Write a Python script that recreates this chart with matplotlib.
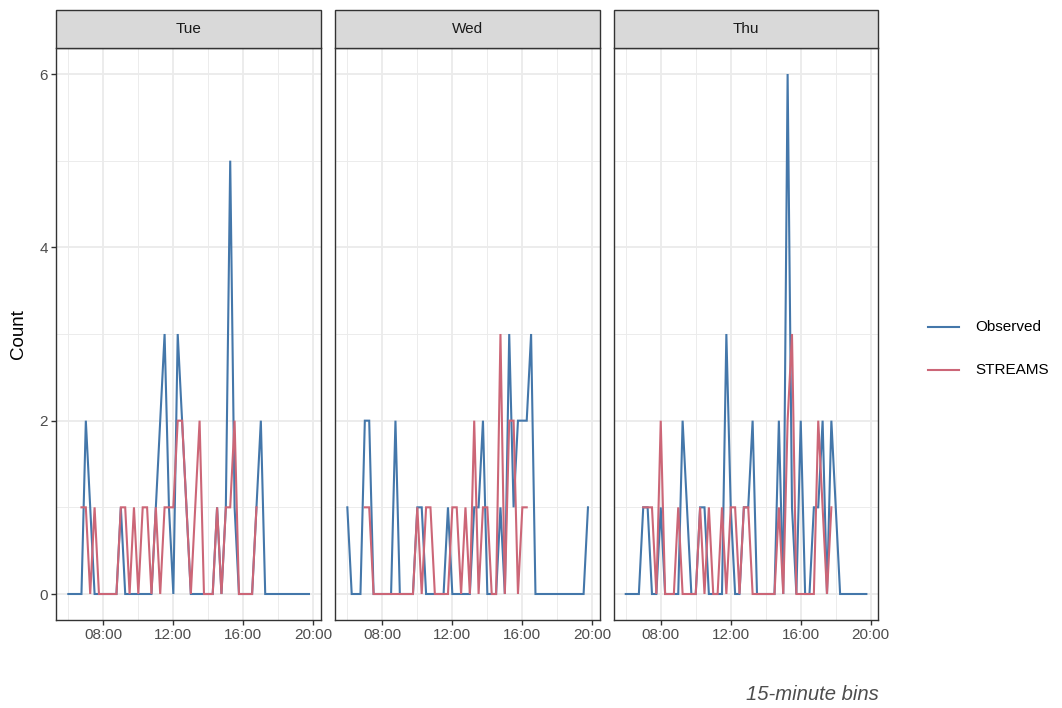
import matplotlib
matplotlib.use("Agg")
import matplotlib.pyplot as plt
from matplotlib.lines import Line2D
from matplotlib.patches import Rectangle
import numpy as np
import pandas as pd

plt.rcParams["font.family"] = ["Liberation Sans", "DejaVu Sans"]

# 15-minute bins from 06:00 to 19:45
bin_start = pd.date_range("2024-01-01 06:00", "2024-01-01 19:45", freq="15min")
bin_hours = bin_start.hour + bin_start.minute / 60.0

days = ["Tue", "Wed", "Thu"]
series_names = ["Observed", "STREAMS"]
series_colors = {"Observed": "#4477AA", "STREAMS": "#CC6677"}

N = None
observed_tue = [0, 0, 0, 0, 2, 1, 0, 0, 0, 0,
                0, 0, 1, 0, 0, 0, 0, 0, 0, 0,
                1, 2, 3, 1, 0, 3, 2, 1, 0, 0,
                0, 0, 0, 0, 1, 0, 1, 5, 1, 0,
                0, 0, 0, 1, 2, 0, 0, 0, 0, 0,
                0, 0, 0, 0, 0, 0]
streams_tue = [N, N, N, 1, 1, 0, 1, 0, 0, 0,
               0, 0, 1, 1, 0, 1, 0, 1, 1, 0,
               1, 0, 1, 1, 1, 2, 2, 1, 0, 1,
               2, 0, 0, 0, 1, 0, 1, 1, 2, 0,
               0, 0, 0, 1, N, N, N, N, N, N,
               N, N, N, N, N, N]

observed_wed = [1, 0, 0, 0, 2, 2, 0, 0, 0, 0,
                0, 2, 0, 0, 0, 0, 1, 1, 0, 0,
                0, 0, 0, 1, 0, 0, 0, 0, 0, 1,
                1, 2, 0, 0, 0, 1, 0, 3, 1, 2,
                2, 2, 3, 0, 0, 0, 0, 0, 0, 0,
                0, 0, 0, 0, 0, 1]
streams_wed = [N, N, N, N, 1, 1, 0, 0, 0, 0,
               0, 0, 0, 0, 0, 0, 1, 0, 1, 1,
               0, 0, 0, 0, 1, 1, 0, 1, 0, 2,
               0, 1, 1, 0, 0, 3, 0, 2, 2, 0,
               1, 1, N, N, N, N, N, N, N, N,
               N, N, N, N, N, N]

observed_thu = [0, 0, 0, 0, 1, 1, 0, 0, 1, 0,
                0, 0, 0, 2, 1, 0, 0, 1, 1, 0,
                0, 0, 0, 3, 1, 0, 0, 1, 1, 2,
                0, 0, 0, 0, 0, 2, 0, 6, 1, 0,
                2, 0, 0, 1, 1, 2, 0, 2, 1, 0,
                0, 0, 0, 0, 0, 0]
streams_thu = [N, N, N, N, 1, 1, 1, 0, 2, 0,
               0, 0, 1, 0, 0, 0, 0, 1, 0, 1,
               0, 0, 1, 0, 1, 1, 0, 1, 1, 0,
               0, 0, 0, 0, 0, 1, 0, 2, 3, 0,
               0, 0, 0, 0, 2, 1, 0, 1, N, N,
               N, N, N, N, N, N]

counts = {
    ("Tue", "Observed"): observed_tue, ("Tue", "STREAMS"): streams_tue,
    ("Wed", "Observed"): observed_wed, ("Wed", "STREAMS"): streams_wed,
    ("Thu", "Observed"): observed_thu, ("Thu", "STREAMS"): streams_thu,
}

x_ticks = [8, 12, 16, 20]
x_tick_labels = ["08:00", "12:00", "16:00", "20:00"]
y_ticks = [0, 2, 4, 6]

W, H = 1062, 708
fig = plt.figure(figsize=(W / 100, H / 100), dpi=100)
fig.patch.set_facecolor("white")

panel_lefts = [56.3, 335.3, 613.7]
panel_w = 264.7
panel_top, panel_bottom = 48, 620
strip_top = 10

span = bin_hours.max() - bin_hours.min()
xlim = (bin_hours.min() - 0.05 * span, bin_hours.max() + 0.05 * span)
ylim = (-0.3, 6.3)

border = "#333333"
grid_c = "#EBEBEB"
tick_text = "#4D4D4D"

for k, day in enumerate(days):
    left = panel_lefts[k]
    ax = fig.add_axes([left / W, 1 - panel_bottom / H, panel_w / W,
                       (panel_bottom - panel_top) / H])
    ax.set_xlim(*xlim)
    ax.set_ylim(*ylim)
    ax.set_xticks(x_ticks)
    ax.set_xticks([6, 10, 14, 18], minor=True)
    ax.set_yticks(y_ticks)
    ax.set_yticks([1, 3, 5], minor=True)
    ax.grid(which="major", color=grid_c, lw=1.3)
    ax.grid(which="minor", color=grid_c, lw=0.65)
    ax.set_axisbelow(True)
    for s in ax.spines.values():
        s.set_color(border)
        s.set_linewidth(1.0)
    ax.tick_params(which="minor", length=0)
    ax.tick_params(which="major", length=3.6, width=1.0, color=border,
                   labelsize=11, labelcolor=tick_text, pad=2.5)
    ax.set_xticklabels(x_tick_labels)
    if k == 0:
        ax.set_yticklabels([str(v) for v in y_ticks])
    else:
        ax.tick_params(axis="y", which="both", left=False, labelleft=False)

    for name in series_names:
        vals = np.array([np.nan if v is None else v for v in counts[(day, name)]],
                        dtype=float)
        ax.plot(bin_hours, vals, color=series_colors[name], lw=1.5,
                solid_joinstyle="miter")

    # facet strip
    fig.add_artist(Rectangle((left / W, 1 - panel_top / H), panel_w / W,
                             (panel_top - strip_top) / H,
                             transform=fig.transFigure, facecolor="#D9D9D9",
                             edgecolor=border, lw=1.0))
    fig.text((left + panel_w / 2) / W, 1 - (strip_top + panel_top) / 2 / H, day,
             ha="center", va="center", fontsize=11, color="#1A1A1A")

fig.text(18 / W, 1 - 334 / H, "Count", rotation=90, ha="center", va="center",
         fontsize=13.5, color="black")

# legend
for j, name in enumerate(series_names):
    yy = 1 - (327 + 43 * j) / H
    fig.add_artist(Line2D([928 / W, 959 / W], [yy, yy], transform=fig.transFigure,
                          color=series_colors[name], lw=1.5))
    fig.text(975 / W, yy, name, ha="left", va="center", fontsize=11,
             color="black")

fig.text(879 / W, 1 - 695 / H, "15-minute bins", ha="right", va="center",
         fontsize=14.6, style="italic", color="#4D4D4D")

fig.savefig("out.png", dpi=100)
